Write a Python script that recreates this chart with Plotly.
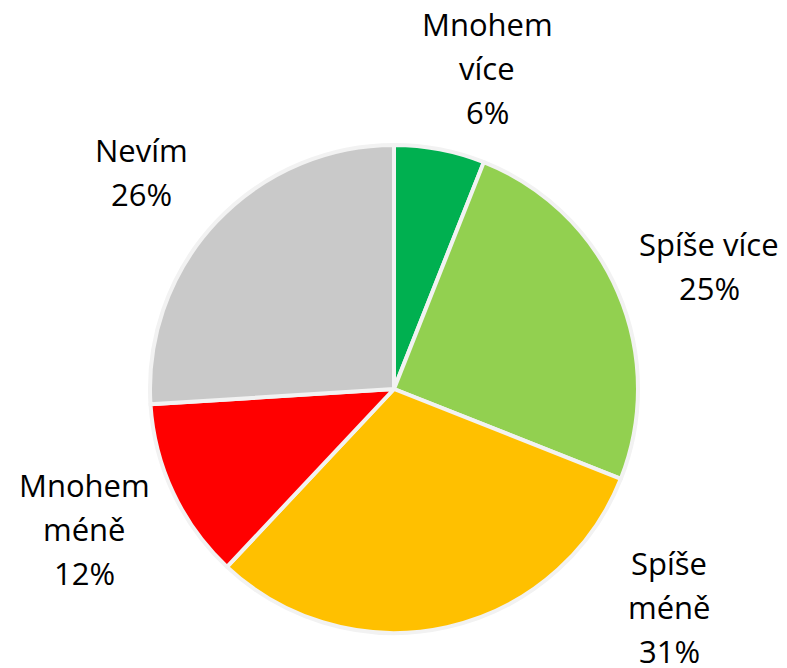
import plotly.graph_objects as go

categories = ["Mnohem více", "Spíše více", "Spíše méně", "Mnohem méně", "Nevím"]
values = [6, 25, 31, 12, 26]
colors = ["#00B050", "#92D050", "#FFC000", "#FF0000", "#C9C9C9"]
label_lines = [["Mnohem", "více"], ["Spíše více"], ["Spíše", "méně"], ["Mnohem", "méně"], ["Nevím"]]

W, H = 787, 668
OFF = 8  # page body margin offset
# label centres (pixels) of the first line, and line spacing
label_pos = [(487, 24), (709, 244), (669, 563), (84, 485), (141, 150)]
line_gap = 44


def px_x(px):
    return (px - OFF) / W


def px_y(py):
    return 1 - (py - OFF) / H


fig = go.Figure(go.Pie(
    labels=categories, values=values, sort=False, direction="clockwise", rotation=0,
    marker=dict(colors=colors, line=dict(color="#F2F2F2", width=4)),
    textinfo="none", hoverinfo="label+percent", showlegend=False,
    domain=dict(x=[px_x(150), px_x(638)], y=[px_y(633), px_y(145)]),
))

total = sum(values)
anns = []
for lines, v, (px, py) in zip(label_lines, values, label_pos):
    all_lines = lines + [f"{round(v / total * 100)}%"]
    for i, t in enumerate(all_lines):
        anns.append(dict(
            text=t, x=px_x(px), y=px_y(py + i * line_gap), xref="paper", yref="paper",
            xanchor="center", yanchor="middle", showarrow=False,
            font=dict(family="Open Sans", size=31, color="#000000"),
        ))

fig.update_layout(
    width=W, height=H, margin=dict(l=0, r=0, t=0, b=0),
    paper_bgcolor="white", plot_bgcolor="white", annotations=anns,
)
fig.write_html("out.html")
